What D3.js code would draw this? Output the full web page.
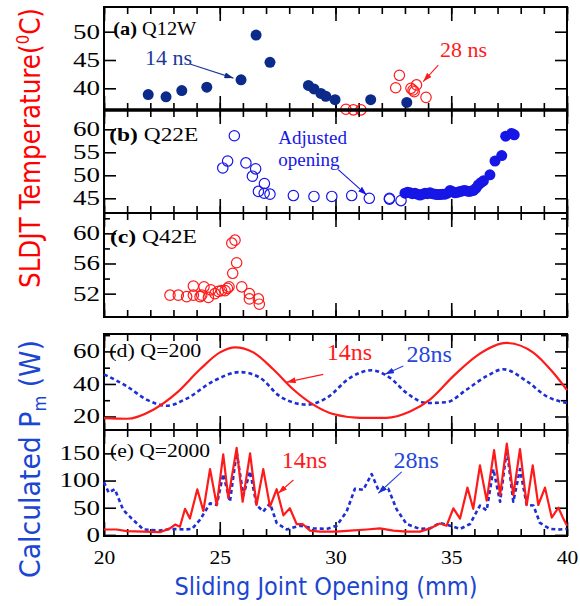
<!DOCTYPE html>
<html>
<head>
<meta charset="utf-8">
<script src="https://cdn.jsdelivr.net/npm/d3@7"></script>
<style>
  body { margin: 0; background: #fff; }
  svg { display: block; }
</style>
</head>
<body>
<div id="chart"></div>
<script>
// ---- data (x = sliding joint opening in mm) ----

// (a) Q12W temperature
var q12w_14ns = [[21.91,38.9],[22.68,38.5],[23.36,39.6],[24.44,40.2],[25.92,41.5],[26.57,49.4],
  [27.17,44.6],[28.83,40.5],[29.07,39.9],[29.37,39.1],[29.58,38.6],[29.98,38.0],[31.52,38.0],[33.08,37.5]];
var q12w_28ns = [[30.45,36.3],[30.77,36.2],[31.10,36.2],[32.60,40.1],[32.76,42.3],[33.26,40.0],
  [33.40,39.4],[33.50,40.6],[33.35,39.7],[33.91,38.4]];

// (b) Q22E temperature
var q22e_open = [[25.13,51.6],[25.34,53.1],[25.63,58.6],[26.13,52.7],[26.55,51.4],[26.41,49.8],
  [26.93,48.2],[26.67,46.5],[26.92,46.1],[27.17,45.9],[28.18,45.6],[29.07,45.4],[29.84,45.4],
  [30.70,45.6],[31.46,45.0],[32.33,44.8],[32.33,45.0],[32.83,44.5]];
var q22e_filled = [[33.00,46.1],[33.11,46.3],[33.22,46.2],[33.32,46.0],[33.43,46.1],[33.54,45.9],
  [33.65,45.7],[33.76,45.9],[33.87,46.1],[33.97,46.0],[34.08,46.2],[34.19,46.0],[34.30,45.9],
  [34.40,45.8],[34.51,45.8],[34.62,45.9],[34.73,45.9],[34.84,46.1],[34.95,46.7],[35.06,46.4],
  [35.16,46.2],[35.27,46.3],[35.38,46.5],[35.48,46.6],[35.57,46.7],[35.67,46.6],[35.77,46.5],
  [35.87,46.6],[35.96,46.7],[36.07,47.2],[36.17,47.9],[36.28,48.4],[36.39,48.8],[36.67,50.1],
  [36.89,53.1],[37.18,54.3],[37.35,58.5],[37.61,59.1],[37.72,58.8]];

// (c) Q42E temperature
var q42e = [[22.85,51.8],[23.21,51.8],[23.57,51.6],[23.86,53.0],[23.86,51.8],[24.15,51.6],
  [24.32,52.9],[24.22,51.8],[24.51,51.5],[24.61,52.5],[24.79,52.0],[24.94,52.3],[25.08,52.4],
  [25.23,52.4],[25.33,52.7],[25.40,52.9],[25.56,54.7],[25.52,58.7],[25.66,59.1],[25.73,56.1],
  [25.95,52.9],[26.28,52.0],[26.28,51.3],[26.67,51.3],[26.71,50.6]];

// (d) Q=200 calculated power
var q200_14ns = [[20.0,19.0],[20.98,18.6],[22.13,24.2],[23.14,34.5],[24.15,49.0],[25.01,59.4],
  [25.66,62.5],[26.45,59.4],[27.31,49.0],[28.18,36.6],[29.04,27.3],[29.90,21.5],[31.06,19.2],
  [32.20,19.2],[33.22,23.1],[34.08,30.4],[35.09,44.8],[36.10,57.3],[37.39,65.2],[38.53,59.4],
  [39.40,47.0],[40.0,36.2]];
var q200_28ns = [[20.0,45.9],[20.98,38.6],[21.84,30.4],[22.71,26.6],[23.57,31.0],[24.72,41.7],
  [25.88,47.3],[26.74,43.8],[27.60,32.4],[28.75,27.3],[29.62,31.4],[30.63,43.8],[31.56,48.4],
  [32.35,43.8],[33.07,34.5],[33.94,28.3],[34.80,28.8],[35.67,36.6],[36.53,44.8],[37.25,49.0],
  [38.26,41.7],[39.12,32.4],[40.0,28.3]];

// (e) Q=2000 calculated power
var q2000_14ns = [[20.0,10],[20.55,10],[20.98,7],[21.70,6],[22.42,5],[22.85,12],[23.07,19],
  [23.28,15],[23.50,48],[23.71,30],[24.03,84],[24.29,44],[24.58,121],[24.87,55],[25.15,148],
  [25.37,68],[25.73,160],[25.99,61],[26.31,150],[26.59,55],[26.88,121],[27.17,52],[27.46,84],
  [27.75,36],[28.03,49],[28.32,20],[28.58,20],[28.90,8],[29.33,6],[30.05,6],[30.63,8],[31.35,10],
  [31.92,12],[32.50,8],[33.07,6],[33.65,6],[34.08,12],[34.51,21],[34.80,17],[35.09,49],[35.38,30],
  [35.70,87],[35.95,48],[36.24,128],[36.53,63],[36.85,156],[37.11,73],[37.40,168],[37.68,73],
  [37.97,158],[38.26,55],[38.52,128],[38.76,55],[39.05,87],[39.34,32],[39.63,50],[39.84,30],[40.0,17]];
var q2000_28ns = [[20.0,97],[20.2,78],[20.47,84],[20.83,46],[21.2,30],[21.7,10],[22.42,8],
  [22.85,11],[23.5,10],[23.8,11],[24.15,28],[24.58,58],[24.87,55],[25.15,112],[25.44,61],
  [25.73,152],[26.02,73],[26.31,117],[26.59,55],[26.88,43],[27.17,58],[27.46,22],[27.89,10],
  [28.47,17],[29.04,12],[29.62,11],[30.05,17],[30.48,43],[30.84,85],[31.20,83],[31.56,112],
  [31.85,83],[32.28,85],[32.64,47],[33.07,20],[33.65,11],[34.08,12],[34.51,22],[34.95,17],
  [35.38,11],[35.81,20],[36.24,54],[36.53,45],[36.82,121],[37.11,61],[37.40,158],[37.68,61],
  [37.97,121],[38.26,55],[38.55,54],[38.83,22],[39.27,11],[39.70,10],[40.0,11]];

// tick values
var xMinorTicks = d3.range(20, 41, 1);
var xMajorTicks = [20, 25, 30, 35, 40];

// ---- colours ----
var navy = "#0c2a8a", red = "#ff1a1a", brightBlue = "#1616e6", lineBlue = "#1c2ed4", titleBlue = "#1a46d2";
var serif = "'Liberation Serif', 'Times New Roman', serif";
var narrow = "'Liberation Sans Narrow', 'Arial Narrow', 'DejaVu Sans Condensed', sans-serif";

var width = 580, height = 606;
var svg = d3.select("#chart").append("svg")
  .attr("width", width)
  .attr("height", height);

var defs = svg.append("defs");
function arrowMarker(id, color) {
  defs.append("marker")
    .attr("id", id)
    .attr("markerUnits", "userSpaceOnUse")
    .attr("markerWidth", 9).attr("markerHeight", 6)
    .attr("refX", 9).attr("refY", 3)
    .attr("orient", "auto")
    .append("path").attr("d", "M0,0L9,3L0,6Z").attr("fill", color);
}
arrowMarker("ah-navy", navy);
arrowMarker("ah-red", red);
arrowMarker("ah-blue", brightBlue);
arrowMarker("ah-lblue", lineBlue);

var x = d3.scaleLinear().domain([20, 40]).range([104, 567]);

function makePanel(top, bottom, domain, major, minor, showX) {
  var y = d3.scaleLinear().domain(domain).range([bottom, top]);
  var g = svg.append("g");

  // x ticks, bottom and top, pointing inward
  g.append("g").attr("transform", "translate(0," + bottom + ")")
    .call(d3.axisBottom(x).tickValues(xMinorTicks).tickSize(-7).tickFormat(""));
  var xb = g.append("g").attr("class", "xlab").attr("transform", "translate(0," + bottom + ")")
    .call(d3.axisBottom(x).tickValues(xMajorTicks).tickSize(-14).tickPadding(15)
      .tickFormat(showX ? d3.format("d") : ""));
  g.append("g").attr("transform", "translate(0," + top + ")")
    .call(d3.axisTop(x).tickValues(xMinorTicks).tickSize(-7).tickFormat(""));
  g.append("g").attr("transform", "translate(0," + top + ")")
    .call(d3.axisTop(x).tickValues(xMajorTicks).tickSize(-14).tickFormat(""));

  // y ticks, left and right
  var yl = g.append("g").attr("transform", "translate(" + x.range()[0] + ",0)")
    .call(d3.axisLeft(y).tickValues(major).tickSize(-12).tickPadding(4).tickFormat(d3.format("d")));
  g.append("g").attr("transform", "translate(" + x.range()[1] + ",0)")
    .call(d3.axisRight(y).tickValues(major).tickSize(-12).tickFormat(""));
  if (minor.length) {
    g.append("g").attr("transform", "translate(" + x.range()[0] + ",0)")
      .call(d3.axisLeft(y).tickValues(minor).tickSize(-6).tickFormat(""));
    g.append("g").attr("transform", "translate(" + x.range()[1] + ",0)")
      .call(d3.axisRight(y).tickValues(minor).tickSize(-6).tickFormat(""));
  }

  g.selectAll(".domain").remove();
  g.selectAll(".tick line").attr("stroke", "#000").attr("stroke-width", 1.6);

  yl.selectAll(".tick text")
    .attr("font-family", serif).attr("font-size", 20).attr("fill", "#000")
    .attr("textLength", function (d) { return String(d).length * 13.5; })
    .attr("lengthAdjust", "spacingAndGlyphs");
  xb.selectAll(".tick text")
    .attr("font-family", serif).attr("font-size", 18).attr("fill", "#000")
    .attr("textLength", 21.5)
    .attr("lengthAdjust", "spacingAndGlyphs");

  g.append("rect")
    .attr("x", x.range()[0]).attr("y", top)
    .attr("width", x.range()[1] - x.range()[0]).attr("height", bottom - top)
    .attr("fill", "none").attr("stroke", "#000").attr("stroke-width", 2);

  return { g: g, y: y };
}

var pa = makePanel(7, 110, [36.17, 54.36], [40, 45, 50], [], false);
var pb = makePanel(110, 213, [41.8, 64.2], [45, 50, 55, 60], [], false);
var pc = makePanel(213, 317, [48.9, 62.7], [52, 56, 60], [54, 58, 62], false);
var pd = makePanel(334, 430, [11.7, 70.7], [20, 40, 60], [30, 50, 70], false);
var pe = makePanel(430, 536, [-2, 193], [0, 50, 100, 150], [], true);

// thick separator between (a) and (b)
svg.append("line")
  .attr("x1", x.range()[0] - 1).attr("x2", x.range()[1] + 1)
  .attr("y1", pa.y.range()[0]).attr("y2", pa.y.range()[0])
  .attr("stroke", "#000").attr("stroke-width", 3.5);

function dots(p, data, color, filled) {
  p.g.append("g").selectAll("circle")
    .data(data)
    .enter().append("circle")
    .attr("cx", function (d) { return x(d[0]); })
    .attr("cy", function (d) { return p.y(d[1]); })
    .attr("r", filled ? 5.5 : 5.2)
    .attr("fill", filled ? color : "none")
    .attr("stroke", filled ? "none" : color)
    .attr("stroke-width", 1.2);
}

function curve(p, data, color, dashed, curveType) {
  var line = d3.line()
    .x(function (d) { return x(d[0]); })
    .y(function (d) { return p.y(d[1]); })
    .curve(curveType);
  p.g.append("path")
    .datum(data)
    .attr("d", line)
    .attr("fill", "none")
    .attr("stroke", color)
    .attr("stroke-width", dashed ? 2.6 : 2.2)
    .attr("stroke-dasharray", dashed ? "4,3" : null)
    .attr("stroke-linejoin", "round");
}

function label(p, xv, yv, txt, color, size) {
  return p.g.append("text")
    .attr("x", x(xv)).attr("y", p.y(yv))
    .attr("font-family", serif).attr("font-size", size)
    .attr("fill", color)
    .text(txt);
}

function arrow(p, x1, y1, x2, y2, color, id) {
  p.g.append("line")
    .attr("x1", x(x1)).attr("y1", p.y(y1))
    .attr("x2", x(x2)).attr("y2", p.y(y2))
    .attr("stroke", color).attr("stroke-width", 1.1)
    .attr("marker-end", "url(#" + id + ")");
}

function panelTag(p, xv, yv, tag, rest, bold, len) {
  var t = p.g.append("text")
    .attr("x", x(xv)).attr("y", p.y(yv))
    .attr("font-family", serif).attr("font-size", 19).attr("fill", "#000")
    .attr("textLength", len).attr("lengthAdjust", "spacingAndGlyphs");
  t.append("tspan").attr("font-weight", bold ? "bold" : "normal").text(tag);
  t.append("tspan").text(rest);
}

// (a)
dots(pa, q12w_14ns, navy, true);
dots(pa, q12w_28ns, red, false);
panelTag(pa, 20.4, 49.4, "(a)", " Q12W", true, 83);
label(pa, 21.77, 44.1, "14 ns", "#1c3a9c", 22);
arrow(pa, 23.71, 44.3, 25.59, 41.8, "#1c3a9c", "ah-navy");
label(pa, 34.51, 45.6, "28 ns", red, 22);
arrow(pa, 34.44, 44.1, 33.79, 41.2, red, "ah-red");

// (b)
dots(pb, q22e_open, brightBlue, false);
dots(pb, q22e_filled, brightBlue, true);
panelTag(pb, 20.23, 57.4, "(b)", " Q22E", true, 89);
label(pb, 27.53, 56.8, "Adjusted", brightBlue, 19);
label(pb, 27.53, 52.0, "opening", brightBlue, 19);
arrow(pb, 30.12, 51.25, 31.35, 45.7, brightBlue, "ah-blue");

// (c)
dots(pc, q42e, red, false);
panelTag(pc, 20.26, 58.7, "(c)", " Q42E", true, 87);

// (d)
curve(pd, q200_28ns, lineBlue, true, d3.curveMonotoneX);
curve(pd, q200_14ns, red, false, d3.curveMonotoneX);
panelTag(pd, 20.23, 56.3, "(d)", " Q=200", false, 92);
label(pd, 29.62, 54.8, "14ns", red, 24);
arrow(pd, 29.47, 45.9, 27.89, 41.1, red, "ah-red");
label(pd, 33.07, 53.5, "28ns", "#2447dc", 24);
arrow(pd, 32.93, 51.1, 32.14, 45.9, "#2447dc", "ah-lblue");

// (e)
curve(pe, q2000_28ns, lineBlue, true, d3.curveLinear);
curve(pe, q2000_14ns, red, false, d3.curveLinear);
panelTag(pe, 20.26, 144, "(e)", " Q=2000", false, 100);
label(pe, 27.68, 123.7, "14ns", red, 24);
arrow(pe, 28.18, 101, 27.53, 76.6, red, "ah-red");
label(pe, 32.5, 123.7, "28ns", "#2447dc", 24);
arrow(pe, 32.86, 116, 31.85, 76.6, "#2447dc", "ah-lblue");

// axis titles
svg.append("text")
  .attr("x", 326).attr("y", 595)
  .attr("text-anchor", "middle")
  .attr("font-family", narrow).attr("font-size", 25)
  .attr("fill", titleBlue)
  .attr("textLength", 303).attr("lengthAdjust", "spacingAndGlyphs")
  .text("Sliding Joint Opening (mm)");

var tTemp = svg.append("text")
  .attr("transform", "translate(40,148) rotate(-90)")
  .attr("text-anchor", "middle")
  .attr("font-family", narrow).attr("font-size", 28)
  .attr("fill", "#ff0000")
  .attr("textLength", 280).attr("lengthAdjust", "spacingAndGlyphs");
tTemp.append("tspan").text("SLDJT Temperature(");
tTemp.append("tspan").attr("font-size", 17).attr("dy", -11).text("0");
tTemp.append("tspan").attr("dy", 11).text("C)");

var tPow = svg.append("text")
  .attr("transform", "translate(40,459) rotate(-90)")
  .attr("text-anchor", "middle")
  .attr("font-family", narrow).attr("font-size", 28)
  .attr("fill", titleBlue)
  .attr("textLength", 238).attr("lengthAdjust", "spacingAndGlyphs");
tPow.append("tspan").text("Calculated P");
tPow.append("tspan").attr("font-size", 17).attr("dy", 6).text("m");
tPow.append("tspan").attr("dy", -6).text(" (W)");
</script>
</body>
</html>
